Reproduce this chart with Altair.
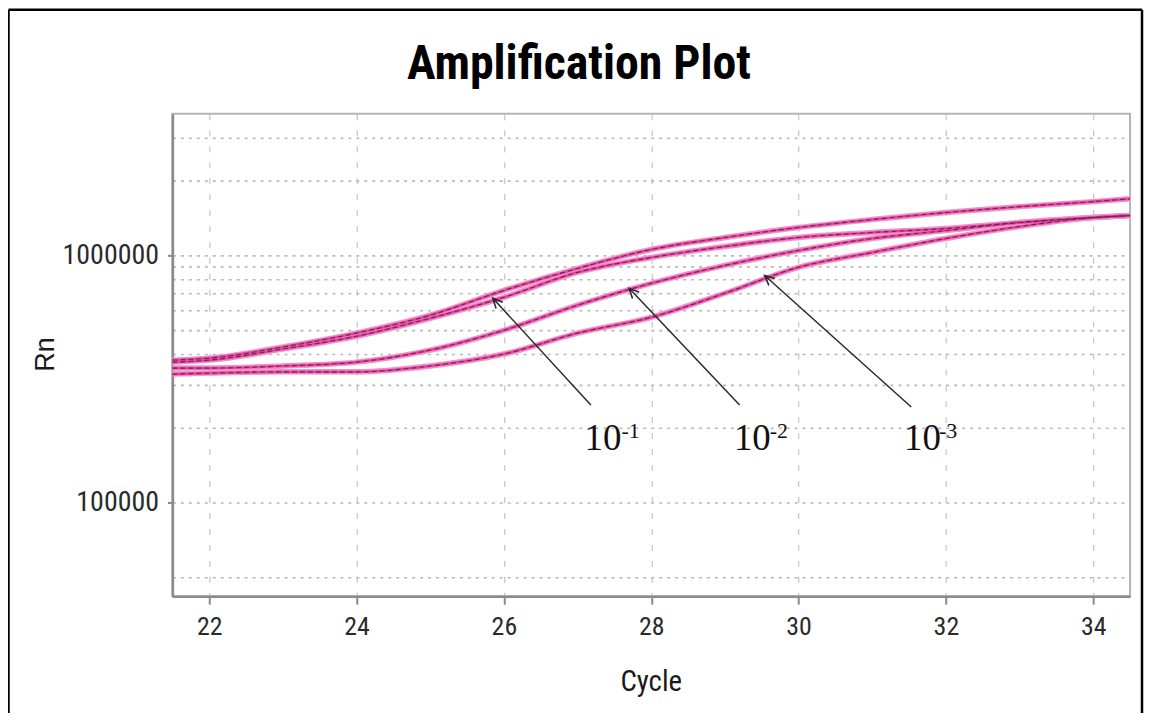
import altair as alt
import pandas as pd

chart_title = "Amplification Plot"
x_title = "Cycle"
y_title = "Rn"

cycles = [21.5, 22, 23, 24, 25, 26, 27, 28, 29, 30, 31, 32, 33, 34, 34.5]
rn_1a = [377000, 384000, 426000, 485000, 573000, 722000, 886000, 1057000, 1182000, 1297000, 1397000, 1491000, 1576000, 1651000, 1697000]
rn_1b = [370000, 377000, 418000, 471000, 557000, 677000, 854000, 981000, 1087000, 1182000, 1238000, 1285000, 1359000, 1423000, 1450000]
rn_2 = [350000, 350000, 357000, 370000, 414000, 498000, 629000, 771000, 911000, 1047000, 1171000, 1261000, 1359000, 1423000, 1450000]
rn_3 = [331000, 334000, 338000, 338000, 357000, 399000, 485000, 562000, 703000, 895000, 1028000, 1171000, 1309000, 1423000, 1450000]
series = {"1a": rn_1a, "1b": rn_1b, "2": rn_2, "3": rn_3}

x_ticks = [22, 24, 26, 28, 30, 32, 34]
y_grid = [50000, 100000, 200000, 300000, 400000, 500000, 600000, 700000, 800000, 900000,
          1000000, 2000000, 3000000]
x_domain = [21.5, 34.5]
y_domain = [41800, 3740000]

# annotations: arrows and dilution labels
arrow_start_cycle = [27.18, 29.20, 31.53]
arrow_start_rn = [248300, 248300, 243700]
arrow_tip_cycle = [25.85, 27.70, 29.54]
arrow_tip_rn = [671000, 736000, 830000]
arrow_angle = [317.5, 316.5, 312]
label_base = ["10", "10", "10"]
label_base_cycle = [27.095, 29.122, 31.432]
label_base_rn = [163600, 163600, 163600]
label_exp = ["-1", "-2", "-3"]
label_exp_cycle = [27.595, 29.608, 31.905]
label_exp_rn = [182900, 182900, 182900]

rows = []
for name, vals in series.items():
    for c, v in zip(cycles, vals):
        rows.append({"series": name, "x": c, "y": v})
curves = pd.DataFrame(rows)

arrows = pd.DataFrame({"x": arrow_start_cycle, "y": arrow_start_rn,
                       "x1": arrow_tip_cycle, "y1": arrow_tip_rn, "ang": arrow_angle})
tips = pd.DataFrame({"x": arrow_tip_cycle, "y": arrow_tip_rn, "ang": arrow_angle})
lab_base = pd.DataFrame({"x": label_base_cycle, "y": label_base_rn, "t": label_base})
lab_exp = pd.DataFrame({"x": label_exp_cycle, "y": label_exp_rn, "t": label_exp})
title_df = pd.DataFrame({"t": [chart_title]})

NARROW = "Liberation Sans Narrow, Roboto Condensed, Liberation Sans, sans-serif"

xs = alt.Scale(domain=x_domain, nice=False, zero=False)
ys = alt.Scale(type="log", domain=y_domain, nice=False)

x_axis = alt.Axis(values=x_ticks, grid=True, gridDash=[6, 10], gridColor="#c4c4c4", gridWidth=1.2,
                  tickColor="#8a8a8a", tickSize=8, tickWidth=2, domainColor="#8a8a8a", domainWidth=2.5,
                  labelFont=NARROW, labelFontSize=26, labelColor="#2a2a2a", labelPadding=9,
                  title=x_title, titleFont=NARROW, titleFontSize=29, titleFontWeight="normal",
                  titleColor="#1a1a1a", titleX=480, titleY=86, titleBaseline="middle", titleAnchor="middle")
y_axis = alt.Axis(values=y_grid, grid=True, gridDash=[3, 5], gridColor="#b8b8b8", gridWidth=1.6,
                  labelExpr="datum.value == 100000 ? '100000' : datum.value == 1000000 ? '1000000' : ''",
                  tickColor="#8a8a8a", tickSize=5, tickWidth=2,
                  tickOpacity={"condition": {"test": "datum.value == 100000 || datum.value == 1000000", "value": 1}, "value": 0},
                  domainColor="#8a8a8a", domainWidth=2.5,
                  labelFont=NARROW, labelFontSize=28, labelColor="#2a2a2a", labelPadding=9,
                  title=y_title, titleFont="Liberation Sans, sans-serif", titleFontSize=27, titleFontWeight="normal",
                  titleColor="#1a1a1a", titleX=-127, titleY=241, titleAngle=270, titleBaseline="middle", titleAnchor="middle")

X = alt.X("x:Q", scale=xs, axis=x_axis)
Y = alt.Y("y:Q", scale=ys, axis=y_axis)

base_line = alt.Chart(curves).mark_line(color="#f490c9", strokeWidth=5.5, interpolate="monotone").encode(
    x=X, y=Y, detail="series:N")
mid_line = alt.Chart(curves).mark_line(color="#e24a9f", strokeWidth=2.6, interpolate="monotone").encode(
    x=X, y=Y, detail="series:N")
dark_line = alt.Chart(curves).mark_line(color="#6e2456", strokeWidth=1.1, strokeDash=[5, 3],
                                        interpolate="monotone").encode(x=X, y=Y, detail="series:N")

arrow_lines = alt.Chart(arrows).mark_rule(color="#2a2a2a", strokeWidth=1.5).encode(
    x=X, y=Y, x2="x1:Q", y2="y1:Q")
arrow_heads = alt.Chart(tips).mark_point(shape="M-0.47,1 L0,0 L0.47,1", filled=False, size=380,
                                         color="#2a2a2a", strokeWidth=1.6, opacity=1).encode(
    x=X, y=Y, angle=alt.Angle("ang:Q", scale=None))
base_text = alt.Chart(lab_base).mark_text(font="Liberation Serif, DejaVu Serif, serif", fontSize=37,
                                          align="left", baseline="alphabetic", color="#111111").encode(
    x=X, y=Y, text="t:N")
exp_text = alt.Chart(lab_exp).mark_text(font="Liberation Serif, DejaVu Serif, serif", fontSize=22,
                                        align="left", baseline="alphabetic", color="#111111").encode(
    x=X, y=Y, text="t:N")
title_text = alt.Chart(title_df).mark_text(font=NARROW, fontSize=48, fontWeight="bold", align="center",
                                           baseline="alphabetic", color="#000000").encode(
    x=alt.value(408), y=alt.value(-35), text="t:N")
frame_df = pd.DataFrame({"k": [0]})
frame_top = alt.Chart(frame_df).mark_rule(color="#000000", strokeWidth=2.5, clip=False).encode(
    x=alt.value(-164.5), x2=alt.value(973), y=alt.value(-104.5))
frame_left = alt.Chart(frame_df).mark_rule(color="#000000", strokeWidth=2.5, clip=False).encode(
    x=alt.value(-164.5), y=alt.value(-104.5), y2=alt.value(620))
frame_right = alt.Chart(frame_df).mark_rule(color="#000000", strokeWidth=2.5, clip=False).encode(
    x=alt.value(973), y=alt.value(-104.5), y2=alt.value(620))

chart = alt.layer(
    base_line, mid_line, dark_line, arrow_lines, arrow_heads, base_text, exp_text,
    title_text, frame_top, frame_left, frame_right,
).properties(
    width=961, height=484,
    autosize=alt.AutoSizeParams(type="none"),
    padding={"left": 165, "top": 105, "right": 14, "bottom": 116},
    background="#ffffff",
).configure_view(stroke="#b4b4b4", strokeWidth=2)

chart.save("out.html", embed_options={"renderer": "svg", "actions": False})
